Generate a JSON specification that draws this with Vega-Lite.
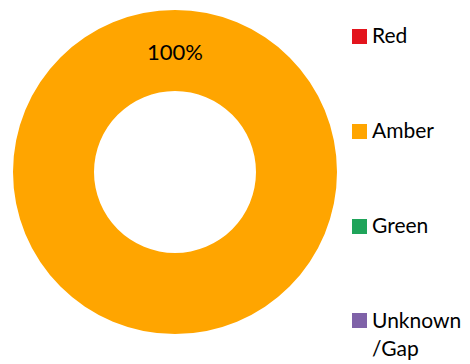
{
  "$schema": "https://vega.github.io/schema/vega-lite/v6.json",
  "width": 350,
  "height": 344,
  "autosize": {"type": "none"},
  "padding": {"left": 0, "top": 0, "right": 120, "bottom": 20},
  "background": "white",
  "config": {"view": {"stroke": null}, "font": "Lato", "style": {"guide-label": {"lineHeight": 28}}},
  "data": {
    "values": [
      {"status": "Red", "share": 0, "order": 1},
      {"status": "Amber", "share": 1, "order": 2},
      {"status": "Green", "share": 0, "order": 3},
      {"status": "Unknown/Gap", "share": 0, "order": 4}
    ]
  },
  "encoding": {
    "theta": {"field": "share", "type": "quantitative", "stack": true, "scale": {"range": [3.14159265, 9.42477796]}},
    "order": {"field": "order"},
    "color": {
      "field": "status",
      "type": "nominal",
      "scale": {
        "domain": ["Red", "Amber", "Green", "Unknown/Gap"],
        "range": ["#e3141d", "#ffa500", "#1fa45a", "#7f62a8"]
      },
      "legend": {
        "title": null,
        "orient": "none",
        "legendX": 349,
        "legendY": 26,
        "symbolType": "square",
        "symbolSize": 225,
        "symbolStrokeWidth": 0,
        "labelFontSize": 21,
        "labelColor": "black",
        "labelLimit": 200,
        "labelOffset": 2,
        "rowPadding": 73,
        "labelExpr": "datum.label == 'Unknown/Gap' ? ['Unknown', '/Gap'] : datum.label",
        "encode": {
          "labels": {
            "update": {
              "lineHeight": {"value": 28},
              "dy": {"signal": "datum.value == 'Unknown/Gap' ? 1 : 0"}
            }
          }
        }
      }
    }
  },
  "layer": [
    {
      "mark": {"type": "arc", "outerRadius": 162, "innerRadius": 81}
    },
    {
      "transform": [{"filter": "datum.share > 0"}],
      "mark": {"type": "text", "radius": 121, "fontSize": 22, "baseline": "middle", "dy": 2},
      "encoding": {
        "text": {"field": "share", "type": "quantitative", "format": ".0%"},
        "color": {"value": "black"}
      }
    }
  ]
}
